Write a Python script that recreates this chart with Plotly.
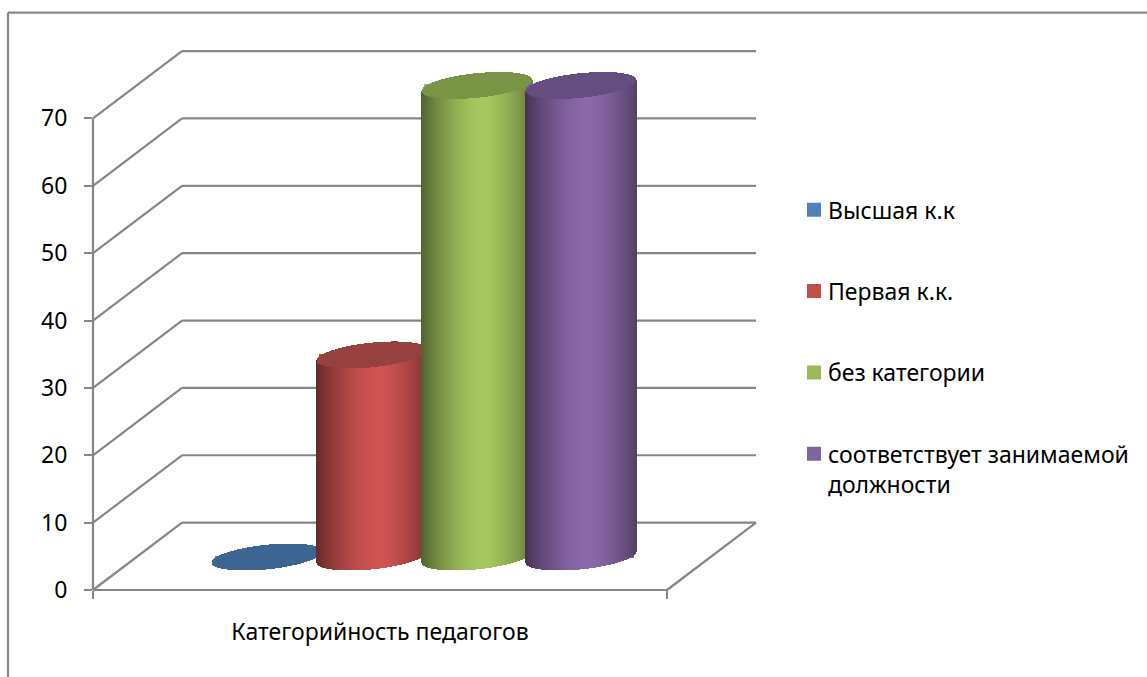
import math
import plotly.graph_objects as go

CATEGORY = "Категорийность педагогов"
SERIES = ["Высшая к.к", "Первая к.к.", "без категории", "соответствует занимаемой<br>должности"]
VALUES = [0, 30, 70, 70]
COLORS = ["#4F81BD", "#C0504D", "#9BBB59", "#8064A2"]
BRIGHT = ["#4F81BD", "#D05452", "#A6C960", "#8C69AB"]
CAPS = ["#3E6592", "#964040", "#7A9446", "#644E80"]
TICKS = [0, 10, 20, 30, 40, 50, 60, 70]
BACK_TICKS = TICKS + [80]
CENTERS = [267, 372, 477, 581]

FONT = "Noto Sans"
LINE = "#868686"
W, H = 1147, 677
L, R, T, B = 93, 756, 46.5, 590
YMAX = (B - T) / (472 / 70)
PX = (B - T) / YMAX      # pixels per value unit
FRONT_R = 667
DX, DV = 89, 10          # depth offset: pixels across, value units up
BASE = 33 / PX           # bars stand mid-floor
A, SHEAR, HH = 55, 5.5, 12.3
PEAK = 0.1


def px(x):
    return (x - L) / (R - L)


def py(v):
    return v / YMAX


def hex_rgb(c):
    return tuple(int(c[i:i + 2], 16) for i in (1, 3, 5))


def shade(c, f):
    r, g, b = hex_rgb(c)
    return "rgb(%d,%d,%d)" % (min(255, r * f), min(255, g * f), min(255, b * f))


def body_factor(u):
    if u < PEAK:
        return 1 - 0.5 * ((PEAK - u) / (1 + PEAK)) ** 1.6
    return 1 - 0.38 * ((u - PEAK) / (1 - PEAK)) ** 1.6


fig = go.Figure()
for name, val, col, bright, cap, cx in zip(SERIES, VALUES, COLORS, BRIGHT, CAPS, CENTERS):
    fig.add_trace(go.Bar(x=[cx], y=[val], base=[BASE], width=[2 * A - 6], name=name,
                         marker=dict(color=col, line=dict(color=col, width=2)),
                         legendgroup=name, hoverinfo="skip"))
    xs, heights, bases, colors = [], [], [], []
    for dx in range(-A, A + 1):
        u = dx / A
        s = SHEAR * u / PX
        e = HH * math.sqrt(max(0, 1 - u * u)) / PX
        xs.append(cx + dx)
        bases.append(BASE + s - e)
        heights.append(val + e)
        colors.append(shade(bright, body_factor(u)))
    for dx in range(-A, A + 1):
        u = dx / A
        s = SHEAR * u / PX
        e = HH * math.sqrt(max(0, 1 - u * u)) / PX
        xs.append(cx + dx)
        bases.append(BASE + val + s - e)
        heights.append(2 * e)
        colors.append(cap)
    fig.add_trace(go.Bar(x=xs, y=heights, base=bases, width=1.05,
                         marker=dict(color=colors, line=dict(width=0)),
                         showlegend=False, legendgroup=name, hoverinfo="skip"))

shapes = []


def seg(x0, v0, x1, v1, width=2.2, color=LINE):
    shapes.append(dict(type="line", xref="paper", yref="paper", layer="below",
                       x0=px(x0), y0=py(v0), x1=px(x1), y1=py(v1),
                       line=dict(color=color, width=width)))


for v in BACK_TICKS[:-1]:
    seg(L, v, L + DX, v + DV)
for v in BACK_TICKS:
    if v > 0:
        seg(L + DX, v, R, v)
seg(R, DV, FRONT_R, 0)
seg(L, 0, FRONT_R, 0)
seg(L, 0, L, TICKS[-1])
# outer frame
shapes.append(dict(type="line", xref="paper", yref="paper", layer="below",
                   x0=px(8), x1=px(8), y0=(B - 12) / (B - T), y1=(B - H) / (B - T),
                   line=dict(color=LINE, width=2.2)))
shapes.append(dict(type="line", xref="paper", yref="paper", layer="below",
                   x0=px(8), x1=px(W), y0=(B - 12) / (B - T), y1=(B - 12) / (B - T),
                   line=dict(color=LINE, width=2.2)))

fig.update_layout(
    width=W, height=H,
    margin=dict(l=L, r=W - R, t=T, b=H - B, autoexpand=False),
    paper_bgcolor="white", plot_bgcolor="rgba(0,0,0,0)",
    barmode="overlay", bargap=0,
    font=dict(family=FONT, size=23, color="#000000"),
    showlegend=True,
    legend=dict(x=px(788), y=py((B - 188) / PX), xanchor="left", yanchor="top",
                tracegroupgap=48.4, valign="top",
                font=dict(family=FONT, size=23, color="#000000"),
                itemclick=False, itemdoubleclick=False, bgcolor="rgba(0,0,0,0)"),
    xaxis=dict(range=[L, R], showgrid=False, zeroline=False, showline=False,
               tickmode="array", tickvals=[(L + FRONT_R) / 2 ], ticktext=[CATEGORY],
               ticks="", ticklabelstandoff=26,
               tickfont=dict(family=FONT, size=23),
               minor=dict(tickmode="array", tickvals=[L, FRONT_R], ticks="outside",
                          ticklen=8, tickwidth=2, tickcolor=LINE, showgrid=False)),
    yaxis=dict(range=[0, YMAX], showgrid=False, zeroline=False, showline=False,
               tickmode="array", tickvals=TICKS, ticks="outside", ticklen=8,
               tickwidth=2, tickcolor=LINE, ticklabelstandoff=12,
               tickfont=dict(family=FONT, size=23)),
    shapes=shapes,
)

POST = """
document.body.style.margin='0';
document.querySelectorAll('.legend .legendsymbols').forEach(function(g){
  g.setAttribute('transform', (g.getAttribute('transform')||'') + ' translate(6,0)');
});
"""
fig.write_html("out.html", post_script=POST, config={"displayModeBar": False})
